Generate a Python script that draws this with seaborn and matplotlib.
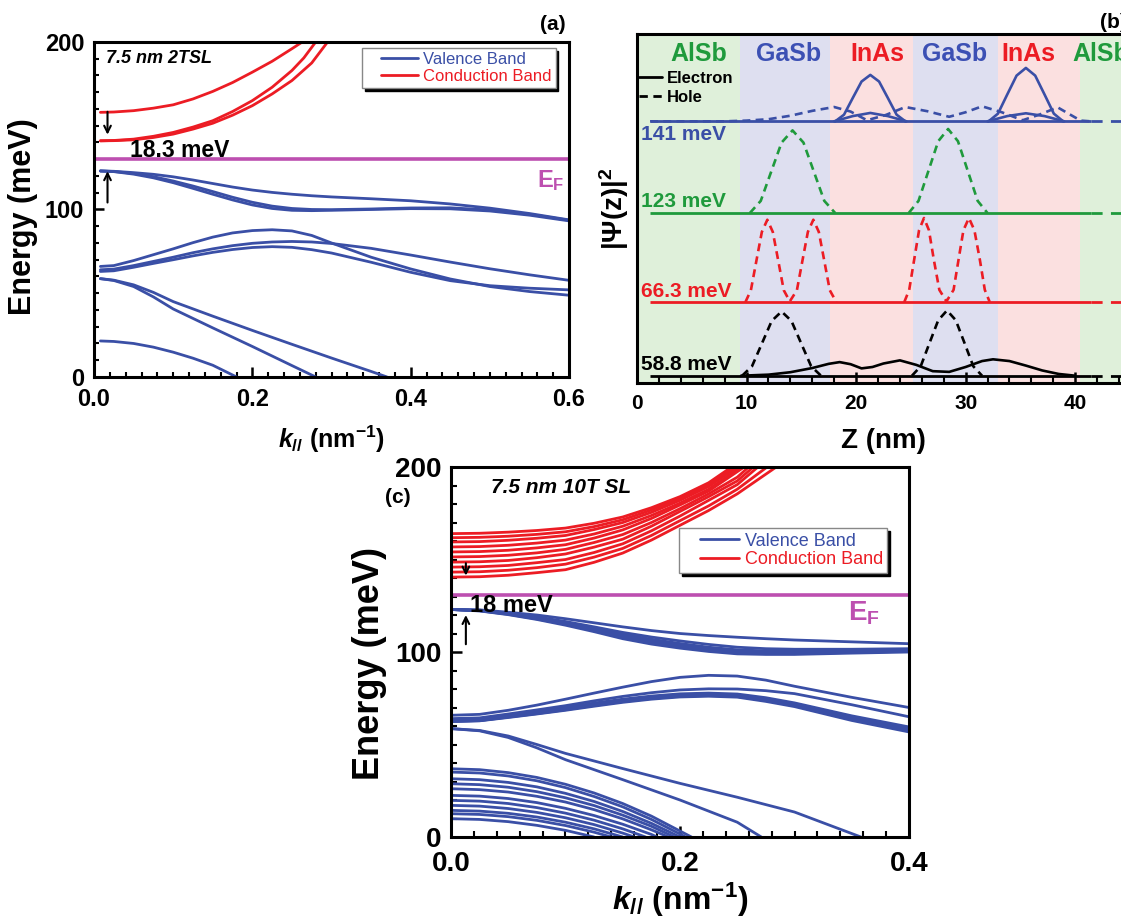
import pandas as pd
import seaborn as sns
import matplotlib.pyplot as plt
from matplotlib.lines import Line2D
from matplotlib.legend_handler import HandlerLine2D
from matplotlib.ticker import MultipleLocator

# ---------------- panel (a): 7.5 nm 2TSL ----------------
a_cb_k = [[0.008, 0.025, 0.05, 0.075, 0.1, 0.125, 0.15, 0.175, 0.2, 0.225, 0.25, 0.263],
          [0.008, 0.025, 0.05, 0.075, 0.1, 0.125, 0.15, 0.175, 0.2, 0.225, 0.25, 0.265, 0.28],
          [0.008, 0.025, 0.05, 0.075, 0.1, 0.125, 0.15, 0.175, 0.2, 0.225, 0.25, 0.275, 0.295]]
a_cb_E = [[158, 158.2, 159, 160.5, 162.5, 166, 170.5, 175.8, 182, 188.5, 196, 200],
          [141, 141.2, 142, 143.7, 146, 149.2, 153, 158.5, 165, 173, 183, 190.5, 200],
          [141, 141.1, 141.6, 143, 145, 148, 151.5, 156.3, 162, 169, 177, 187.5, 200]]

ka = [0.008, 0.025, 0.05, 0.075, 0.1, 0.125, 0.15, 0.175, 0.2, 0.225, 0.25, 0.275, 0.3,
      0.35, 0.4, 0.45, 0.5, 0.55, 0.6]
a_vb_E = [[123, 122.8, 122, 121, 119.5, 117.6, 115.5, 113.4, 111.6, 110.2, 109.1, 108.2, 107.5,
           106.4, 105.2, 103.3, 100.8, 97.6, 93.8],
          [123, 122.7, 121.5, 119.6, 117, 114, 110.7, 107.3, 104.3, 102, 100.6, 100, 99.9,
           100.3, 100.9, 101, 99.7, 97.1, 93.6],
          [123, 122.6, 121.1, 118.9, 116, 112.6, 109.1, 105.7, 102.7, 100.6, 99.5, 99.3, 99.5,
           100, 100.5, 100.4, 99.1, 96.6, 93.2],
          [66, 66.5, 69.5, 73, 76.5, 80.2, 83.5, 86, 87.4, 87.9, 87.2, 84.5, 80,
           71.5, 64.5, 58.5, 54, 51, 48.8],
          [64, 64.4, 66.5, 69, 71.5, 74.2, 76.5, 78.4, 79.8, 80.6, 80.9, 80.6, 79.7,
           76.8, 72.8, 68.6, 64.6, 61, 57.7],
          [63, 63.4, 65.5, 67.8, 70, 72.3, 74.4, 76.1, 77.3, 77.8, 77.4, 76, 74,
           68.5, 62.5, 57.5, 54.5, 53, 52]]

a_low_k = [[0.008, 0.025, 0.05, 0.075, 0.1, 0.15, 0.2, 0.25, 0.3, 0.35, 0.37],
           [0.008, 0.025, 0.05, 0.075, 0.1, 0.15, 0.2, 0.25, 0.28],
           [0.008, 0.025, 0.05, 0.075, 0.1, 0.125, 0.15, 0.18]]
a_low_E = [[58.7, 57.8, 55, 50.5, 45, 36.3, 27.8, 19.5, 11.3, 3.3, 0],
           [58.7, 57.6, 54, 47.8, 40.6, 29.3, 18.2, 6.8, 0],
           [21.5, 21.2, 20, 17.8, 14.8, 11.2, 7, 0]]

# ---------------- panel (c): 7.5 nm 10T SL ----------------
c_cb_k = [[0, 0.025, 0.05, 0.075, 0.1, 0.125, 0.15, 0.175, 0.2, 0.225, 0.245],
          [0, 0.025, 0.05, 0.075, 0.1, 0.125, 0.15, 0.175, 0.2, 0.225, 0.247],
          [0, 0.025, 0.05, 0.075, 0.1, 0.125, 0.15, 0.175, 0.2, 0.225, 0.25],
          [0, 0.025, 0.05, 0.075, 0.1, 0.125, 0.15, 0.175, 0.2, 0.225, 0.253],
          [0, 0.025, 0.05, 0.075, 0.1, 0.125, 0.15, 0.175, 0.2, 0.225, 0.256],
          [0, 0.025, 0.05, 0.075, 0.1, 0.125, 0.15, 0.175, 0.2, 0.225, 0.25, 0.26],
          [0, 0.025, 0.05, 0.075, 0.1, 0.125, 0.15, 0.175, 0.2, 0.225, 0.25, 0.264],
          [0, 0.025, 0.05, 0.075, 0.1, 0.125, 0.15, 0.175, 0.2, 0.225, 0.25, 0.268],
          [0, 0.025, 0.05, 0.075, 0.1, 0.125, 0.15, 0.175, 0.2, 0.225, 0.25, 0.276],
          [0, 0.025, 0.05, 0.075, 0.1, 0.125, 0.15, 0.175, 0.2, 0.225, 0.25, 0.284]]
c_cb_E = [[164, 164.2, 164.8, 165.7, 167, 169.6, 173, 178, 184, 191.5, 200],
          [161.8, 162, 162.6, 163.6, 165, 167.8, 171.5, 176.8, 183, 190.5, 200],
          [159.5, 159.7, 160.4, 161.5, 163, 166.2, 170, 175.5, 182, 189.5, 200],
          [156.8, 157, 157.7, 158.9, 160.5, 163.8, 168, 173.8, 180.5, 188, 200],
          [154.1, 154.3, 155, 156.3, 158, 161.6, 166, 172.2, 179.5, 187, 200],
          [151.4, 151.6, 152.3, 153.6, 155.5, 159.2, 163.5, 170, 177.5, 185.5, 194.5, 200],
          [148.6, 148.8, 149.5, 151, 153, 156.7, 161, 168, 176, 184, 192.5, 200],
          [145.9, 146.1, 146.8, 148.3, 150, 153.8, 158.5, 165.5, 173.5, 182, 190.5, 200],
          [143.2, 143.4, 144.2, 145.6, 147.5, 151.3, 156, 163, 171, 179, 188, 200],
          [140.5, 140.7, 141.5, 142.9, 144.5, 148.5, 153.5, 160.5, 168.5, 176.5, 185.5, 200]]

kc = [0, 0.025, 0.05, 0.075, 0.1, 0.125, 0.15, 0.175, 0.2, 0.225, 0.25, 0.275, 0.3, 0.35, 0.4]
c_vb_E = [[123, 122.8, 121.5, 120, 118, 115.8, 113.6, 111.6, 110, 108.9, 108, 107.2, 106.5, 105.5, 104.5],
          [123, 122.6, 121, 119, 116.5, 113.6, 110.6, 108.1, 106, 104.1, 102.6, 101.8, 101.5, 101.5, 101.8],
          [123, 122.5, 120.8, 118.5, 116, 112.9, 109.6, 106.9, 104.6, 102.6, 101.2, 100.6, 100.5, 100.8, 101.2],
          [123, 122.4, 120.6, 118.2, 115.5, 112.2, 108.7, 105.9, 103.6, 101.6, 100.2, 99.8, 99.7, 100.3, 100.8],
          [123, 122.3, 120.4, 117.9, 115, 111.6, 107.9, 105.1, 102.8, 100.9, 99.5, 99.1, 99.1, 99.8, 100.4],
          [123, 122.2, 120.2, 117.6, 114.5, 111, 107.2, 104.3, 102.1, 100.3, 99, 98.7, 98.7, 99.4, 100],
          [65.8, 66.3, 68.5, 71.3, 74.5, 77.8, 81, 84, 86.3, 87.4, 87, 84.8, 81.5, 75.5, 70],
          [64, 64.4, 66.5, 68.7, 71, 73.6, 76, 78, 79.5, 80.1, 80, 79.1, 77.5, 71.5, 65],
          [63, 63.4, 65.5, 67.7, 70, 72.4, 74.5, 76.2, 77.4, 77.8, 77.3, 75.3, 72.5, 65.5, 59.5],
          [62.8, 63.2, 65.2, 67.3, 69.5, 71.9, 74, 75.7, 76.9, 77.3, 76.8, 74.8, 72, 65, 58.8],
          [62.6, 63, 65, 67, 69.2, 71.5, 73.6, 75.3, 76.5, 76.9, 76.4, 74.3, 71.5, 64.3, 58.1],
          [62.5, 62.9, 64.8, 66.7, 68.8, 71.1, 73.2, 74.9, 76.1, 76.5, 76, 73.8, 71, 63.6, 57.5],
          [62.4, 62.8, 64.6, 66.5, 68.5, 70.7, 72.8, 74.5, 75.7, 76.1, 75.6, 73.3, 70.5, 63, 56.8]]

c_low_k = [[0, 0.025, 0.05, 0.075, 0.1, 0.15, 0.2, 0.25, 0.3, 0.358],
           [0, 0.025, 0.05, 0.075, 0.1, 0.15, 0.2, 0.25, 0.271],
           [0, 0.025, 0.05, 0.075, 0.1, 0.125, 0.15, 0.175, 0.21],
           [0, 0.025, 0.05, 0.075, 0.1, 0.125, 0.15, 0.175, 0.205],
           [0, 0.025, 0.05, 0.075, 0.1, 0.125, 0.15, 0.175, 0.2],
           [0, 0.025, 0.05, 0.075, 0.1, 0.125, 0.15, 0.175, 0.195],
           [0, 0.025, 0.05, 0.075, 0.1, 0.125, 0.15, 0.175, 0.19],
           [0, 0.025, 0.05, 0.075, 0.1, 0.125, 0.15, 0.175, 0.18],
           [0, 0.025, 0.05, 0.075, 0.1, 0.125, 0.15, 0.17],
           [0, 0.025, 0.05, 0.075, 0.1, 0.125, 0.15, 0.16],
           [0, 0.025, 0.05, 0.075, 0.1, 0.125, 0.15],
           [0, 0.025, 0.05, 0.075, 0.1, 0.125, 0.14],
           [0, 0.025, 0.05, 0.075, 0.1, 0.125]]
c_low_E = [[58.6, 57.6, 54.6, 50, 45.2, 37, 29, 21.5, 13.5, 0],
           [58.6, 57.4, 53.8, 48.2, 41.8, 31, 20, 8, 0],
           [36.9, 36.4, 34.8, 32.2, 28.5, 23.8, 18.1, 11.3, 0],
           [35.1, 34.6, 33.0, 30.4, 26.7, 21.9, 16.3, 9.5, 0],
           [31.5, 31.0, 29.5, 27.1, 23.6, 19.2, 13.8, 7.4, 0],
           [28.8, 28.3, 26.9, 24.5, 21.2, 17.0, 11.8, 5.8, 0],
           [26.1, 25.6, 24.3, 22.0, 18.9, 14.8, 9.8, 3.9, 0],
           [22.5, 22.1, 20.8, 18.6, 15.5, 11.6, 6.9, 1.4, 0],
           [19.8, 19.4, 18.1, 15.9, 12.9, 9.1, 4.4, 0],
           [17.1, 16.7, 15.4, 13.3, 10.4, 6.7, 2.1, 0],
           [14.4, 14.0, 12.8, 10.8, 8.0, 4.4, 0],
           [12.6, 12.2, 11.0, 9.0, 6.2, 2.6, 0],
           [9.9, 9.5, 8.3, 6.3, 3.6, 0]]

# ---------------- panel (b): |psi(z)|^2 ----------------
layer_edges = [0, 9.45, 17.6, 25.2, 33.0, 40.4, 46]
layer_names = ['AlSb', 'GaSb', 'InAs', 'GaSb', 'InAs', 'AlSb']
layer_label_z = [5.6, 13.8, 21.9, 29.0, 35.7, 42.3]

level_labels = ['141 meV', '123 meV', '66.3 meV', '58.8 meV']
level_base = [75.0, 48.7, 23.2, 2.1]
level_label_y = [71.2, 52.1, 26.3, 5.3]

psi_141_e1_z = [18.1, 18.9, 19.7, 20.5, 21.3, 22.1, 22.9, 23.7, 24.5]
psi_141_e1 = [75, 76.9, 81.7, 86.4, 88.3, 86.4, 81.7, 76.9, 75]
psi_141_e2_z = [32.1, 32.95, 33.8, 34.65, 35.5, 36.35, 37.2, 38.05, 38.9]
psi_141_e2 = [75, 77.2, 82.7, 88.1, 90.3, 88.1, 82.7, 77.2, 75]
psi_141_e3_z = [18.0, 19.7, 21.3, 22.9, 24.6]
psi_141_e3 = [75, 76.5, 77.4, 76.5, 75]
psi_141_e4_z = [32.0, 33.8, 35.5, 37.2, 39.0]
psi_141_e4 = [75, 76.5, 77.3, 76.5, 75]
psi_141_h_z = [1.2, 8, 10, 12, 14, 16, 18, 19.5, 21, 22.7, 24.5, 26.5, 28.5, 30,
               31.5, 33.3, 35.2, 36.8, 38.4, 39.5, 40.5, 41.4]
psi_141_h = [75, 75, 75.2, 75.6, 76.6, 78, 79.1, 77.8, 75.3, 76.8, 79.1, 77.9, 76.3,
             77.6, 79.3, 77.6, 75.3, 77, 79, 77, 75.2, 75]
psi_123_h1_z = [10.3, 11.3, 12.25, 13.2, 14.2, 15.2, 16.15, 17.1, 18.1]
psi_123_h1 = [48.7, 52.2, 60.55, 68.9, 72.4, 68.9, 60.55, 52.2, 48.7]
psi_123_h2_z = [24.8, 25.7, 26.6, 27.5, 28.4, 29.3, 30.2, 31.1, 32.0]
psi_123_h2 = [48.7, 52.2, 60.75, 69.3, 72.8, 69.3, 60.75, 52.2, 48.7]
psi_66_h1_z = [9.9, 10.4, 10.9, 11.4, 11.9, 12.4, 12.9, 13.4, 13.95, 14.6, 15.1, 15.6,
               16.1, 16.6, 17.1, 17.6, 18.2]
psi_66_h1 = [23.2, 26.6, 35.0, 43.3, 46.8, 43.3, 35.0, 26.6, 23.4, 26.6, 35.0, 43.3,
             46.8, 43.3, 35.0, 26.6, 23.2]
psi_66_h2_z = [24.4, 24.85, 25.3, 25.75, 26.2, 26.65, 27.1, 27.6, 28.25, 28.9, 29.35,
               29.8, 30.3, 30.8, 31.3, 31.75, 32.2]
psi_66_h2 = [23.2, 26.7, 35.3, 43.8, 47.3, 43.8, 35.3, 26.7, 23.4, 26.7, 35.3, 43.8,
             47.3, 43.8, 35.3, 26.7, 23.2]
psi_58_h1_z = [9.6, 10.5, 11.4, 12.3, 13.2, 14.1, 15.0, 15.9, 16.8]
psi_58_h1 = [2.1, 4.8, 11.3, 17.8, 20.5, 17.8, 11.3, 4.8, 2.1]
psi_58_h2_z = [25.1, 25.9, 26.7, 27.5, 28.3, 29.1, 29.9, 30.7, 31.5]
psi_58_h2 = [2.1, 4.8, 11.45, 18.0, 20.8, 18.0, 11.45, 4.8, 2.1]
psi_58_e_z = [9.5, 12, 14, 16, 17.5, 18.5, 19.5, 20.5, 21.5, 22.5, 24, 25.5, 27, 28.5,
              30, 31.5, 32.5, 34, 35.5, 37, 38.5, 40]
psi_58_e = [2.1, 2.4, 3.1, 4.3, 5.5, 6.0, 5.4, 4.2, 4.6, 5.6, 6.5, 5.2, 3.4, 3.2, 4.6,
            6.3, 6.8, 6.3, 5.0, 3.6, 2.6, 2.1]

BLUE = '#3a4fa6'
RED = '#ec1c24'
GREEN = '#1f9a3c'
MAGENTA = '#bd4fb0'
band_pal = {'Valence Band': BLUE, 'Conduction Band': RED}
level_pal = {'141 meV': BLUE, '123 meV': GREEN, '66.3 meV': RED, '58.8 meV': 'black'}
layer_text = {'AlSb': GREEN, 'GaSb': '#3c50b4', 'InAs': RED}
layer_fill = {'AlSb': '#dff0da', 'GaSb': '#dedff0', 'InAs': '#fbe0e0'}

sns.set_theme(style='white')
plt.rcParams.update({
    'font.family': ['Liberation Sans', 'DejaVu Sans'],
    'font.weight': 'bold',
    'mathtext.fontset': 'custom',
    'mathtext.rm': 'Liberation Sans:bold',
    'mathtext.it': 'Liberation Sans:italic:bold',
    'mathtext.bf': 'Liberation Sans:bold',
    'axes.linewidth': 2.2,
    'axes.edgecolor': 'black',
    'axes.labelcolor': 'black',
    'text.color': 'black',
    'xtick.color': 'black',
    'ytick.color': 'black',
    'xtick.direction': 'in',
    'ytick.direction': 'in',
    'xtick.bottom': True,
    'ytick.left': True,
})


def band_frame(k_lists, e_lists, band, tag):
    parts = []
    for i, (ks, es) in enumerate(zip(k_lists, e_lists)):
        parts.append(pd.DataFrame({'k': ks, 'E': es, 'curve': f'{tag}{i}', 'band': band}))
    return pd.concat(parts, ignore_index=True)


def style_band_axes(ax, xmax, tick_size, tick_len, xpad):
    ax.set_xlim(0, xmax)
    ax.set_ylim(0, 200)
    ax.xaxis.set_major_locator(MultipleLocator(0.2))
    ax.xaxis.set_minor_locator(MultipleLocator(0.02))
    ax.yaxis.set_major_locator(MultipleLocator(100))
    ax.yaxis.set_minor_locator(MultipleLocator(10))
    ax.tick_params(which='major', length=tick_len, width=1.8, labelsize=tick_size, pad=7)
    ax.tick_params(axis='x', which='major', pad=xpad)
    ax.tick_params(which='minor', length=tick_len * 0.55, width=1.5)
    for lab in ax.get_xticklabels() + ax.get_yticklabels():
        lab.set_fontweight('bold')


def band_legend(ax, anchor, size):
    handles = [Line2D([0], [0], color=BLUE, lw=2), Line2D([0], [0], color=RED, lw=2)]
    leg = ax.legend(handles, ['Valence Band', 'Conduction Band'], loc='upper right',
                    bbox_to_anchor=anchor, frameon=True, fancybox=False, framealpha=1,
                    shadow={'color': 'black', 'alpha': 1}, edgecolor='#888888',
                    labelcolor='linecolor', prop={'weight': 'normal', 'size': size},
                    handlelength=3.1, handletextpad=0.3, borderpad=0.25,
                    labelspacing=0.1, borderaxespad=0,
                    handler_map={Line2D: HandlerLine2D(xpad=0.9)})
    leg.get_frame().set_linewidth(1.0)


fig = plt.figure(figsize=(11.21, 9.21), dpi=100)
ax_a = fig.add_axes([0.0839, 0.5907, 0.4237, 0.3637])
ax_b = fig.add_axes([0.5682, 0.5841, 0.4398, 0.3789])
ax_c = fig.add_axes([0.4023, 0.0912, 0.4086, 0.4017])

# ---- (a) ----
df_a = pd.concat([band_frame(a_cb_k, a_cb_E, 'Conduction Band', 'c'),
                  band_frame([ka] * len(a_vb_E), a_vb_E, 'Valence Band', 'v'),
                  band_frame(a_low_k, a_low_E, 'Valence Band', 'w')], ignore_index=True)
sns.lineplot(data=df_a, x='k', y='E', hue='band', units='curve', estimator=None,
             sort=False, palette=band_pal, linewidth=2, legend=False, ax=ax_a)
ax_a.axhline(130, color=MAGENTA, lw=2.6)
style_band_axes(ax_a, 0.6, 17, 7, 8)
ax_a.set_xlabel(r'$k_{//}$ (nm$^{-1}$)', fontsize=18, fontweight='bold')
ax_a.set_ylabel('Energy (meV)', fontsize=22, fontweight='bold')
ax_a.yaxis.set_label_coords(-0.118, 0.48)
ax_a.xaxis.set_label_coords(0.5, -0.14)
ax_a.text(0.015, 190, '7.5 nm 2TSL', fontsize=13, fontweight='bold', style='italic', va='center')
ax_a.text(0.045, 131.3, '18.3 meV', fontsize=16.5, fontweight='bold', va='baseline')
ax_a.text(0.577, 117, r'E$_{\rm F}$', fontsize=17, color=MAGENTA, ha='center', va='center')
ax_a.annotate('', xy=(0.017, 143), xytext=(0.017, 160),
              arrowprops=dict(arrowstyle='->', color='black', lw=1.5))
ax_a.annotate('', xy=(0.017, 124.5), xytext=(0.017, 102.5),
              arrowprops=dict(arrowstyle='->', color='black', lw=1.5))
band_legend(ax_a, (0.972, 0.982), 12)

# ---- (b) ----
for lo, hi, name in zip(layer_edges[:-1], layer_edges[1:], layer_names):
    ax_b.axvspan(lo, hi, color=layer_fill[name], lw=0, zorder=0)
for zc, name in zip(layer_label_z, layer_names):
    ax_b.text(zc, 94.3, name, color=layer_text[name], fontsize=18, fontweight='bold',
              ha='center', va='center')

wave_parts = [('141 meV', 'Electron', psi_141_e1_z, psi_141_e1),
              ('141 meV', 'Electron', psi_141_e2_z, psi_141_e2),
              ('141 meV', 'Electron', psi_141_e3_z, psi_141_e3),
              ('141 meV', 'Electron', psi_141_e4_z, psi_141_e4),
              ('141 meV', 'Hole', psi_141_h_z, psi_141_h),
              ('123 meV', 'Hole', psi_123_h1_z, psi_123_h1),
              ('123 meV', 'Hole', psi_123_h2_z, psi_123_h2),
              ('66.3 meV', 'Hole', psi_66_h1_z, psi_66_h1),
              ('66.3 meV', 'Hole', psi_66_h2_z, psi_66_h2),
              ('58.8 meV', 'Hole', psi_58_h1_z, psi_58_h1),
              ('58.8 meV', 'Hole', psi_58_h2_z, psi_58_h2),
              ('58.8 meV', 'Electron', psi_58_e_z, psi_58_e)]
df_b = pd.concat([pd.DataFrame({'z': z, 'psi': p, 'state': s, 'carrier': c, 'seg': i})
                  for i, (s, c, z, p) in enumerate(wave_parts)], ignore_index=True)

for base, lab in zip(level_base, level_labels):
    ax_b.hlines(base, 1.2, 41.4, color=level_pal[lab], lw=2)
    ax_b.hlines(base, 41.4, 46, color=level_pal[lab], lw=2, linestyles=(0, (4, 3)))

sns.lineplot(data=df_b, x='z', y='psi', hue='state', style='carrier', units='seg',
             estimator=None, sort=False, palette=level_pal,
             dashes={'Electron': '', 'Hole': (3, 2)}, linewidth=1.9, legend=False, ax=ax_b)

for lab, y in zip(level_labels, level_label_y):
    ax_b.text(0.4, y, lab, color=level_pal[lab], fontsize=15, fontweight='bold', va='center')

wave_handles = [Line2D([0], [0], color='black', lw=2),
                Line2D([0], [0], color='black', lw=2, ls=(0, (3, 2)))]
ax_b.legend(wave_handles, ['Electron', 'Hole'], loc='upper left', bbox_to_anchor=(0.0, 0.9),
            frameon=False, prop={'weight': 'bold', 'size': 12}, handlelength=1.4,
            handletextpad=0.3, borderpad=0.1, labelspacing=0.25, borderaxespad=0)

ax_b.set_xlim(0, 45)
ax_b.set_ylim(0, 100)
ax_b.set_yticks([])
ax_b.xaxis.set_major_locator(MultipleLocator(10))
ax_b.xaxis.set_minor_locator(MultipleLocator(2))
ax_b.tick_params(axis='x', which='major', length=8, width=1.8, labelsize=15, pad=8)
ax_b.tick_params(axis='x', which='minor', length=4, width=1.5)
for lab in ax_b.get_xticklabels():
    lab.set_fontweight('bold')
ax_b.set_xlabel('Z (nm)', fontsize=20, fontweight='bold')
ax_b.xaxis.set_label_coords(0.5, -0.13)
ax_b.set_ylabel(r'|$\Psi$(z)|$^{2}$', fontsize=20, fontweight='bold')
ax_b.yaxis.set_label_coords(-0.012, 0.5)

# ---- (c) ----
df_c = pd.concat([band_frame(c_cb_k, c_cb_E, 'Conduction Band', 'c'),
                  band_frame([kc] * len(c_vb_E), c_vb_E, 'Valence Band', 'v'),
                  band_frame(c_low_k, c_low_E, 'Valence Band', 'w')], ignore_index=True)
sns.lineplot(data=df_c, x='k', y='E', hue='band', units='curve', estimator=None,
             sort=False, palette=band_pal, linewidth=2, legend=False, ax=ax_c)
ax_c.axhline(131, color=MAGENTA, lw=2.6)
style_band_axes(ax_c, 0.4, 20, 8, 10)
ax_c.set_xlabel(r'$k_{//}$ (nm$^{-1}$)', fontsize=23, fontweight='bold')
ax_c.set_ylabel('Energy (meV)', fontsize=26, fontweight='bold')
ax_c.yaxis.set_label_coords(-0.14, 0.47)
ax_c.xaxis.set_label_coords(0.5, -0.118)
ax_c.text(0.035, 189, '7.5 nm 10T SL', fontsize=15, fontweight='bold', style='italic', va='center')
ax_c.text(0.017, 125, '18 meV', fontsize=17, fontweight='bold', va='center')
ax_c.text(0.361, 120.7, r'E$_{\rm F}$', fontsize=20, color=MAGENTA, ha='center', va='center')
ax_c.annotate('', xy=(0.013, 139.8), xytext=(0.013, 149.5),
              arrowprops=dict(arrowstyle='->', color='black', lw=1.5))
ax_c.annotate('', xy=(0.013, 121.5), xytext=(0.013, 102.7),
              arrowprops=dict(arrowstyle='->', color='black', lw=1.5))
band_legend(ax_c, (0.953, 0.835), 13)

fig.text(0.493, 0.973, '(a)', fontsize=15, fontweight='bold', ha='center', va='center')
fig.text(0.981, 0.976, '(b)', fontsize=15, fontweight='bold', ha='left', va='center')
fig.text(0.355, 0.46, '(c)', fontsize=15, fontweight='bold', ha='center', va='center')

fig.savefig('out.png', dpi=100)
